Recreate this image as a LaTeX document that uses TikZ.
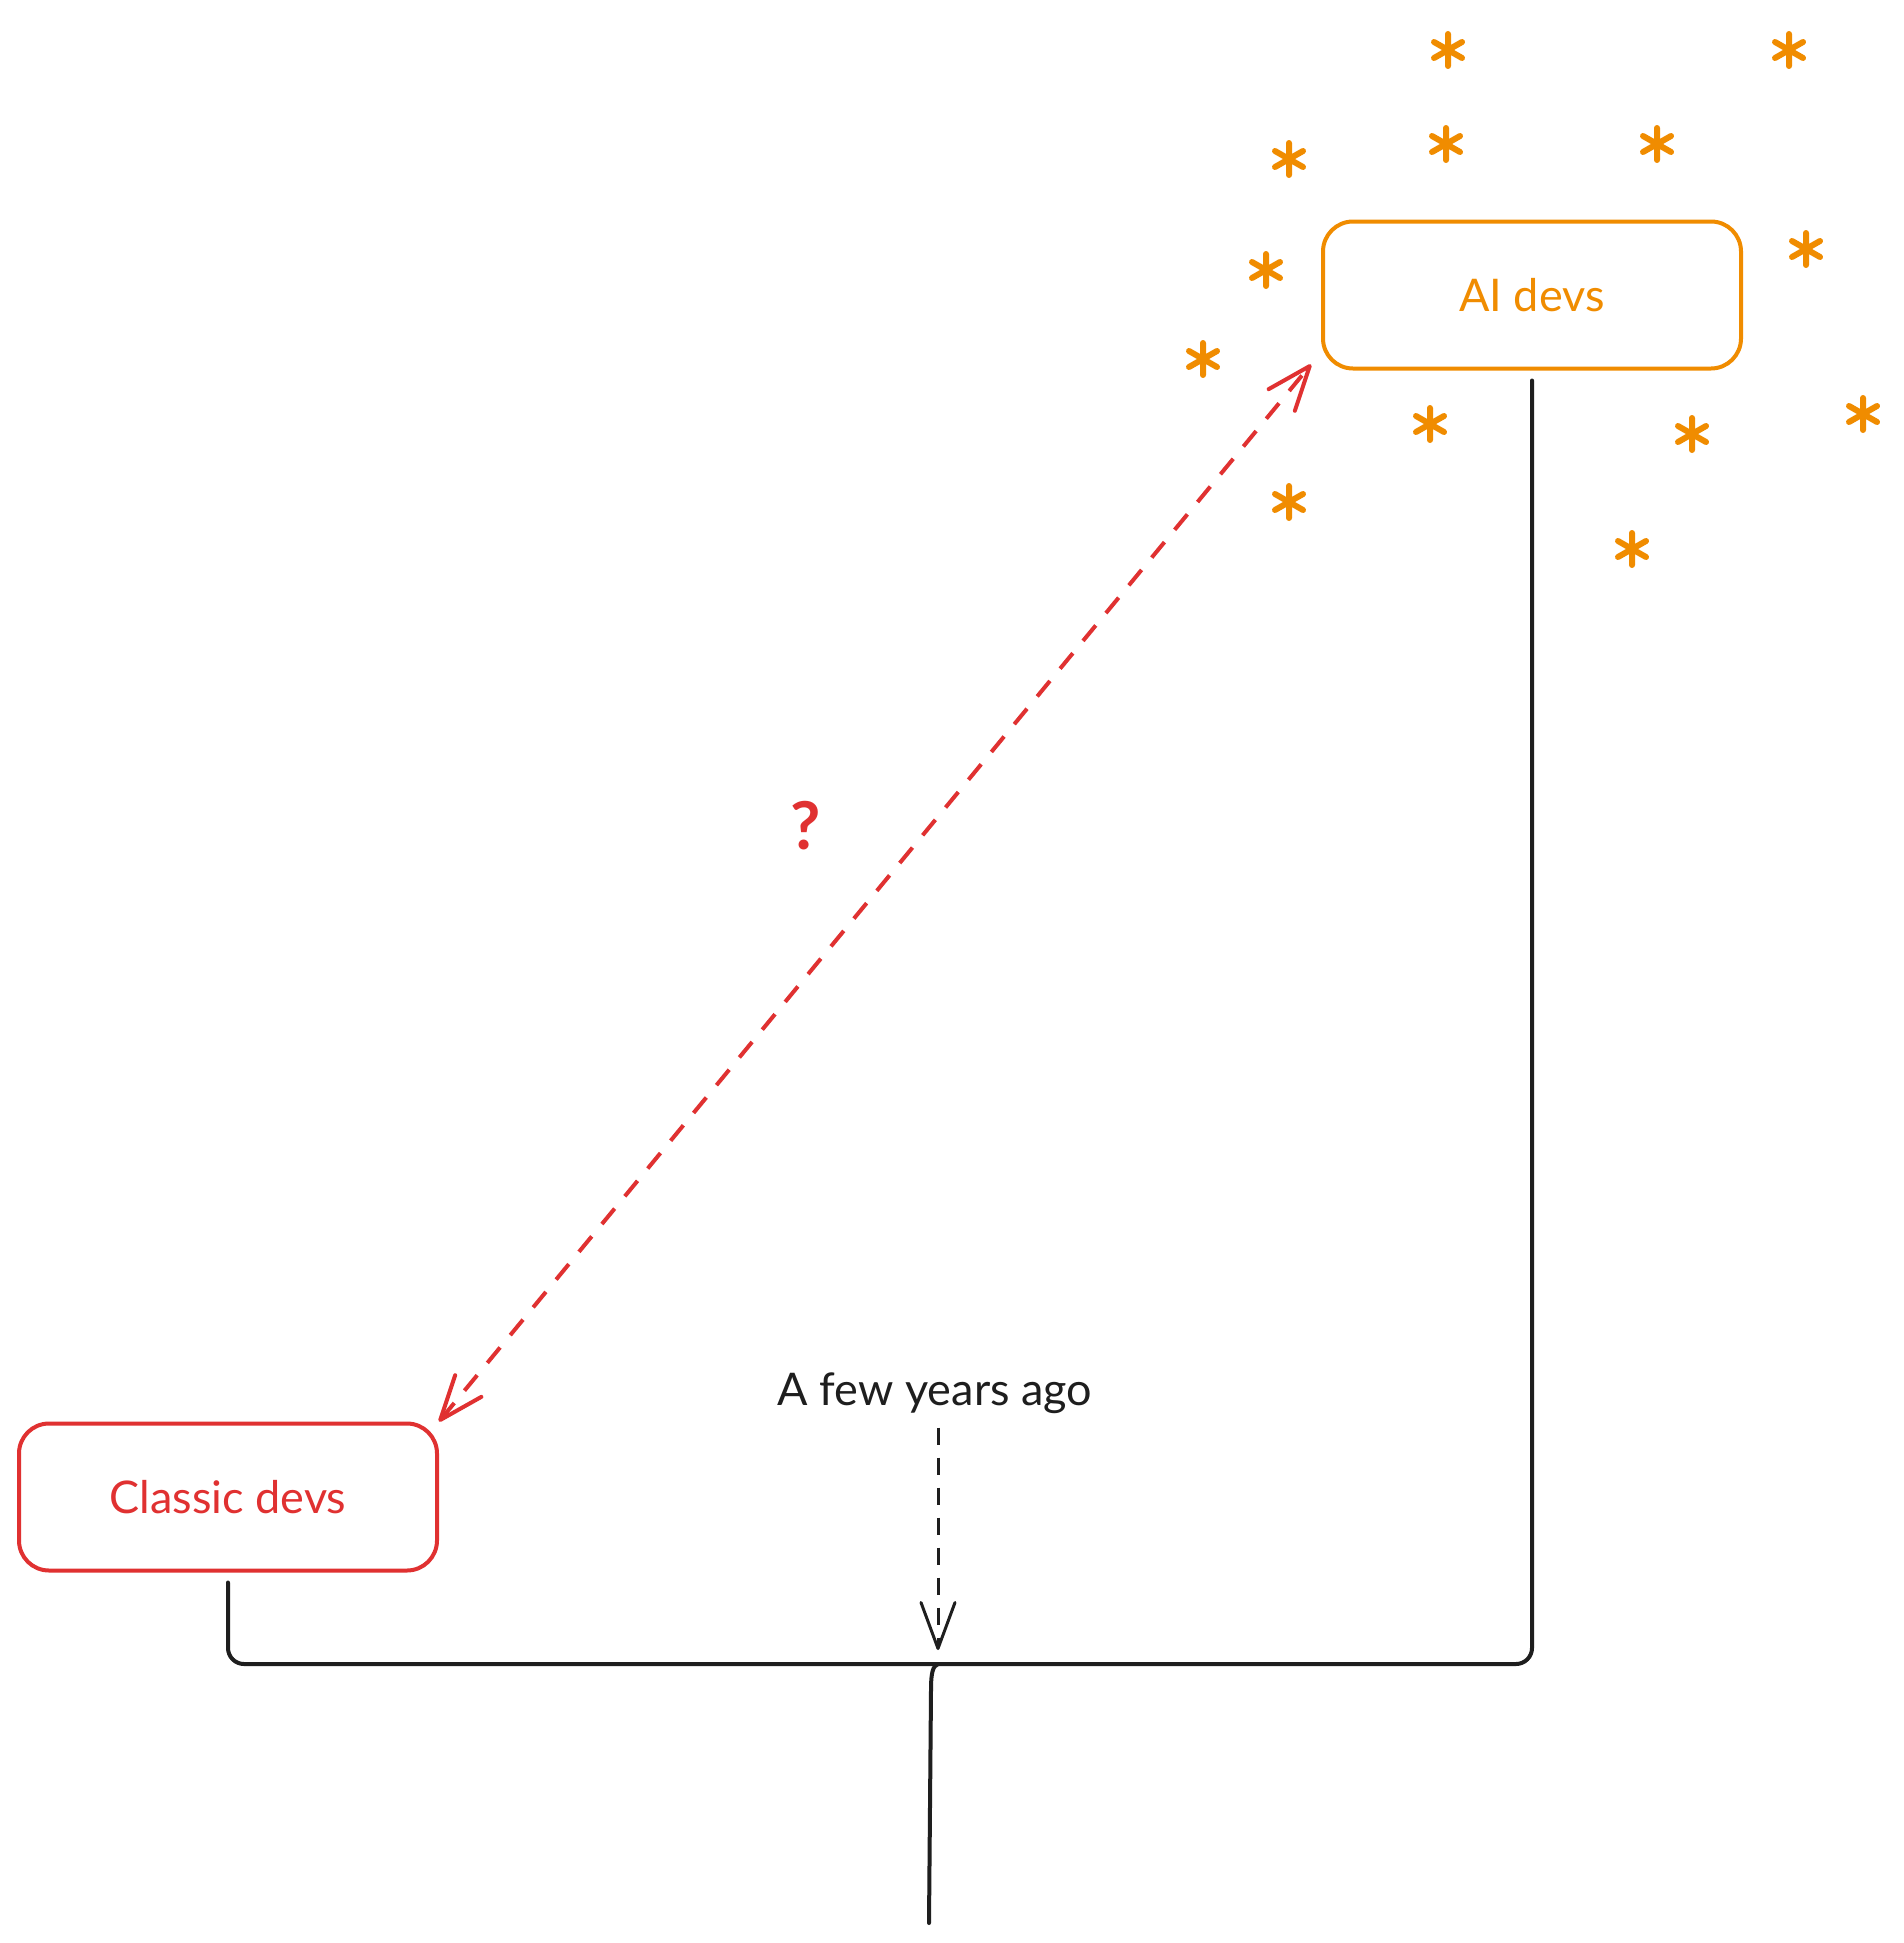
\documentclass[tikz,border=0pt]{standalone}
\usepackage{fontspec}
\setmainfont{Lato}
\usetikzlibrary{arrows.meta}
\definecolor{exred}{HTML}{E03131}
\definecolor{exorange}{HTML}{F08C00}
\definecolor{exblack}{HTML}{1E1E1E}
\tikzset{
  barb/.tip={Straight Barb[round, length=44pt, width=34pt]},
  devbox/.style={draw, rounded corners=30pt, line width=4pt, inner sep=0pt,
    minimum width=418pt, minimum height=147pt, font=\fontsize{45}{50}\selectfont},
  conn/.style={draw=exblack, line width=4pt, rounded corners=16pt, line cap=round},
  reddash/.style={draw=exred, line width=4pt, dash pattern=on 20pt off 16pt, {barb}-{barb}},
  blackdash/.style={draw=exblack, line width=3pt, dash pattern=on 17pt off 13pt, -{Straight Barb[round, length=46pt, width=34pt]}},
  asterisk/.pic={\draw[exorange, line width=6pt, line cap=round]
     (0,-16)--(0,16) (-14,-8)--(14,8) (-14,8)--(14,-8);}
}
\begin{document}
\begin{tikzpicture}[x=1pt,y=-1pt]
\useasboundingbox[fill=white] (0,0) rectangle (1903,1943);

% boxes
\node[devbox, draw=exorange, text=exorange] (ai) at (1532,295) {AI devs};
\node[devbox, draw=exred, text=exred] (classic) at (228,1497) {Classic devs};

% stars
\foreach \p [count=\i] in {(1448,50),(1789,50),(1289,159),(1446,144),(1657,144),(1266,270),(1806,249),(1203,359),(1430,424),(1692,434),(1863,414),(1289,502),(1632,549)}
  \pic at \p {asterisk};

% timeline
\coordinate (j) at (938,1664);
\coordinate (bot) at (929,1923);
\draw[conn] ([yshift=-10pt]ai.south) |- (j);
\draw[conn] ([yshift=-10pt]classic.south) |- (j);
\draw[conn, rounded corners=0pt] (j) .. controls (933,1666) and (931,1672) .. (931,1690) -- (bot);

% label and dashed arrow
\node[inner sep=0pt, font=\fontsize{45}{50}\selectfont, text=exblack] (ago) at (935,1393) {A few years ago};
\draw[blackdash, shorten <=14pt, shorten >=14pt] (ago.south -| j) -- (j);

% red double arrow
\draw[reddash] (classic.north east) -- ([xshift=-10pt,yshift=6pt]ai.south west);
\node[text=exred, font=\bfseries\fontsize{66}{66}\selectfont] (q) at (806,826) {?};
\end{tikzpicture}
\end{document}
